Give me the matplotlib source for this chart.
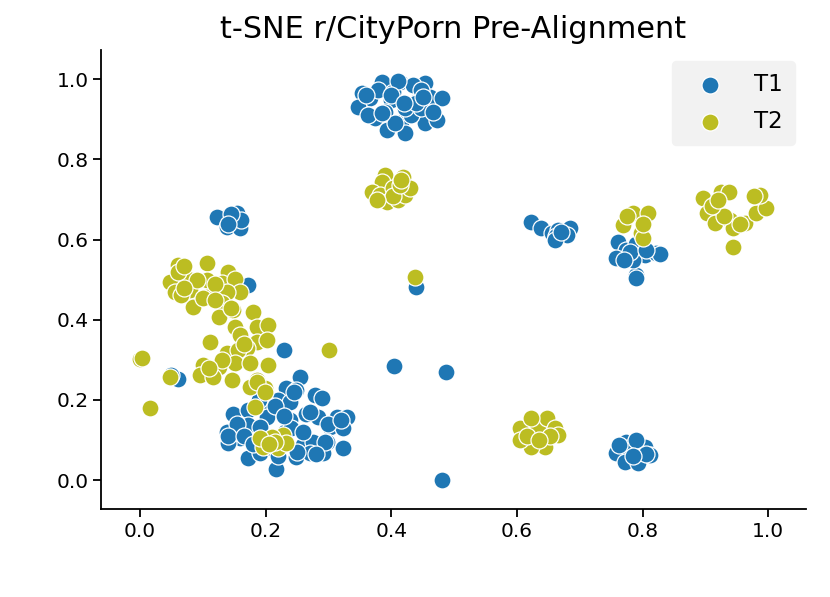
import matplotlib
matplotlib.use("Agg")
import matplotlib.pyplot as plt

title = "t-SNE r/CityPorn Pre-Alignment"
series_names = ["T1", "T2"]
series_colors = ["#1f77b4", "#bcbd22"]
xticks = [0.0, 0.2, 0.4, 0.6, 0.8, 1.0]
yticks = [0.0, 0.2, 0.4, 0.6, 0.8, 1.0]

t1_points = [
    # top cluster
    (0.353, 0.965), (0.385, 0.994), (0.414, 0.994), (0.453, 0.990), (0.461, 0.957),
    (0.440, 0.944), (0.400, 0.948), (0.366, 0.953), (0.347, 0.932), (0.374, 0.903),
    (0.416, 0.894), (0.422, 0.865), (0.393, 0.873), (0.453, 0.890), (0.472, 0.898),
    (0.480, 0.953), (0.363, 0.911), (0.432, 0.911), (0.448, 0.928), (0.422, 0.928),
    (0.390, 0.919), (0.435, 0.986), (0.379, 0.973), (0.403, 0.969), (0.467, 0.919),
    (0.406, 0.890), (0.448, 0.973), (0.410, 0.995), (0.360, 0.960), (0.440, 0.940),
    (0.450, 0.955), (0.400, 0.960), (0.420, 0.940), (0.385, 0.915),
    # small cluster upper left
    (0.133, 0.653), (0.148, 0.641), (0.154, 0.666), (0.122, 0.657), (0.138, 0.632),
    (0.159, 0.628), (0.160, 0.648), (0.145, 0.665), (0.140, 0.640),
    (0.172, 0.487),
    # isolated
    (0.230, 0.324), (0.405, 0.285), (0.487, 0.270), (0.480, 0.000), (0.440, 0.483),
    (0.055, 0.256), (0.060, 0.252), (0.050, 0.262),
    # bottom-left big cluster
    (0.255, 0.258), (0.233, 0.229), (0.249, 0.225), (0.278, 0.212), (0.289, 0.204),
    (0.220, 0.200), (0.202, 0.191), (0.148, 0.166), (0.172, 0.175), (0.217, 0.175),
    (0.239, 0.150), (0.265, 0.166), (0.284, 0.158), (0.313, 0.158), (0.329, 0.158),
    (0.302, 0.133), (0.323, 0.129), (0.138, 0.121), (0.172, 0.137), (0.159, 0.104),
    (0.140, 0.092), (0.260, 0.087), (0.276, 0.096), (0.297, 0.096), (0.323, 0.079),
    (0.172, 0.054), (0.217, 0.029), (0.249, 0.058), (0.270, 0.067), (0.292, 0.067),
    (0.191, 0.067), (0.202, 0.158), (0.191, 0.133), (0.231, 0.121), (0.154, 0.141),
    (0.239, 0.195), (0.140, 0.110), (0.165, 0.110), (0.190, 0.200), (0.215, 0.185),
    (0.245, 0.220), (0.270, 0.170), (0.300, 0.140), (0.320, 0.150), (0.295, 0.095),
    (0.280, 0.065), (0.250, 0.070), (0.240, 0.130), (0.260, 0.120), (0.230, 0.160),
    (0.210, 0.080), (0.220, 0.060), (0.180, 0.090),
    # middle right cluster
    (0.623, 0.645), (0.639, 0.628), (0.655, 0.616), (0.666, 0.624), (0.684, 0.628),
    (0.662, 0.608), (0.679, 0.611), (0.660, 0.600), (0.670, 0.620),
    # right cluster
    (0.761, 0.595), (0.774, 0.574), (0.758, 0.553), (0.803, 0.561), (0.822, 0.566),
    (0.790, 0.512), (0.785, 0.549), (0.827, 0.564), (0.790, 0.590), (0.780, 0.570),
    (0.770, 0.550), (0.805, 0.575), (0.790, 0.505),
    # bottom right cluster
    (0.758, 0.067), (0.774, 0.096), (0.803, 0.083), (0.777, 0.079), (0.772, 0.046),
    (0.793, 0.042), (0.811, 0.062), (0.762, 0.088), (0.790, 0.100), (0.805, 0.065),
    (0.785, 0.060),
]

t2_points = [
    # below top cluster
    (0.390, 0.761), (0.419, 0.757), (0.385, 0.744), (0.369, 0.719), (0.382, 0.711),
    (0.393, 0.695), (0.411, 0.699), (0.422, 0.711), (0.430, 0.728), (0.403, 0.728),
    (0.403, 0.710), (0.414, 0.736), (0.377, 0.700), (0.415, 0.750),
    # upper-left big cluster
    (0.061, 0.537), (0.106, 0.541), (0.140, 0.520), (0.048, 0.495), (0.077, 0.503),
    (0.106, 0.499), (0.130, 0.491), (0.151, 0.503), (0.159, 0.470), (0.138, 0.470),
    (0.080, 0.474), (0.056, 0.470), (0.085, 0.433), (0.066, 0.462), (0.106, 0.458),
    (0.130, 0.441), (0.125, 0.408), (0.148, 0.424), (0.180, 0.420), (0.151, 0.383),
    (0.186, 0.383), (0.204, 0.387), (0.159, 0.362), (0.186, 0.345), (0.202, 0.349),
    (0.111, 0.345), (0.170, 0.329), (0.138, 0.316), (0.156, 0.324), (0.101, 0.287),
    (0.125, 0.283), (0.151, 0.291), (0.175, 0.291), (0.204, 0.287), (0.146, 0.250),
    (0.095, 0.262), (0.117, 0.258), (0.186, 0.250), (0.199, 0.229), (0.175, 0.233),
    (0.048, 0.258), (0.060, 0.520), (0.070, 0.535), (0.090, 0.500), (0.120, 0.490),
    (0.100, 0.455), (0.145, 0.430), (0.165, 0.340), (0.130, 0.300), (0.110, 0.280),
    (0.183, 0.183), (0.186, 0.245), (0.199, 0.220), (0.120, 0.450), (0.070, 0.480),
    # isolated
    (0.000, 0.303), (0.003, 0.304), (0.016, 0.179), (0.301, 0.324), (0.437, 0.507),
    # inside bottom-left blue cluster
    (0.202, 0.100), (0.220, 0.079), (0.228, 0.112), (0.196, 0.083), (0.210, 0.108),
    (0.233, 0.092), (0.215, 0.095), (0.191, 0.104), (0.205, 0.090),
    # right cluster
    (0.785, 0.666), (0.809, 0.666), (0.769, 0.636), (0.798, 0.616), (0.800, 0.603),
    (0.775, 0.660), (0.800, 0.640),
    # far right cluster
    (0.896, 0.703), (0.925, 0.720), (0.938, 0.720), (0.915, 0.690), (0.902, 0.666),
    (0.915, 0.641), (0.939, 0.649), (0.944, 0.628), (0.944, 0.582), (0.963, 0.641),
    (0.981, 0.666), (0.997, 0.678), (0.986, 0.711), (0.977, 0.710), (0.930, 0.660),
    (0.955, 0.640), (0.910, 0.685), (0.920, 0.700),
    # bottom middle cluster
    (0.605, 0.129), (0.634, 0.133), (0.647, 0.154), (0.623, 0.154), (0.660, 0.129),
    (0.666, 0.112), (0.644, 0.083), (0.623, 0.083), (0.605, 0.100), (0.616, 0.110),
    (0.652, 0.110), (0.635, 0.100),
]

fig = plt.figure(figsize=(8.3, 5.97), dpi=100)
ax = fig.add_axes([0.1217, 0.1474, 0.8494, 0.7688])

for pts, name, col in zip([t1_points, t2_points], series_names, series_colors):
    xs = [p[0] for p in pts]
    ys = [p[1] for p in pts]
    ax.scatter(xs, ys, s=150, c=col, edgecolors="white", linewidths=0.9, label=name)

ax.set_xlim(-0.062, 1.06)
ax.set_ylim(-0.072, 1.073)
ax.set_xticks(xticks)
ax.set_yticks(yticks)
ax.set_xticklabels([f"{v:.1f}" for v in xticks])
ax.set_yticklabels([f"{v:.1f}" for v in yticks])
ax.tick_params(labelsize=14.5, length=5.5, width=1.3, direction="out")
for side in ["top", "right"]:
    ax.spines[side].set_visible(False)
for side in ["left", "bottom"]:
    ax.spines[side].set_linewidth(1.3)

ax.set_title(title, fontsize=21.8, pad=9)

leg = ax.legend(loc="upper right", fontsize=16.5, frameon=True, fancybox=True,
                handlelength=2.3, labelspacing=0.62, borderpad=0.5,
                handletextpad=0.8)
leg.get_frame().set_facecolor("#f2f2f2")
leg.get_frame().set_edgecolor("#f2f2f2")
leg.get_frame().set_alpha(1.0)

fig.savefig("out.png", dpi=100)
